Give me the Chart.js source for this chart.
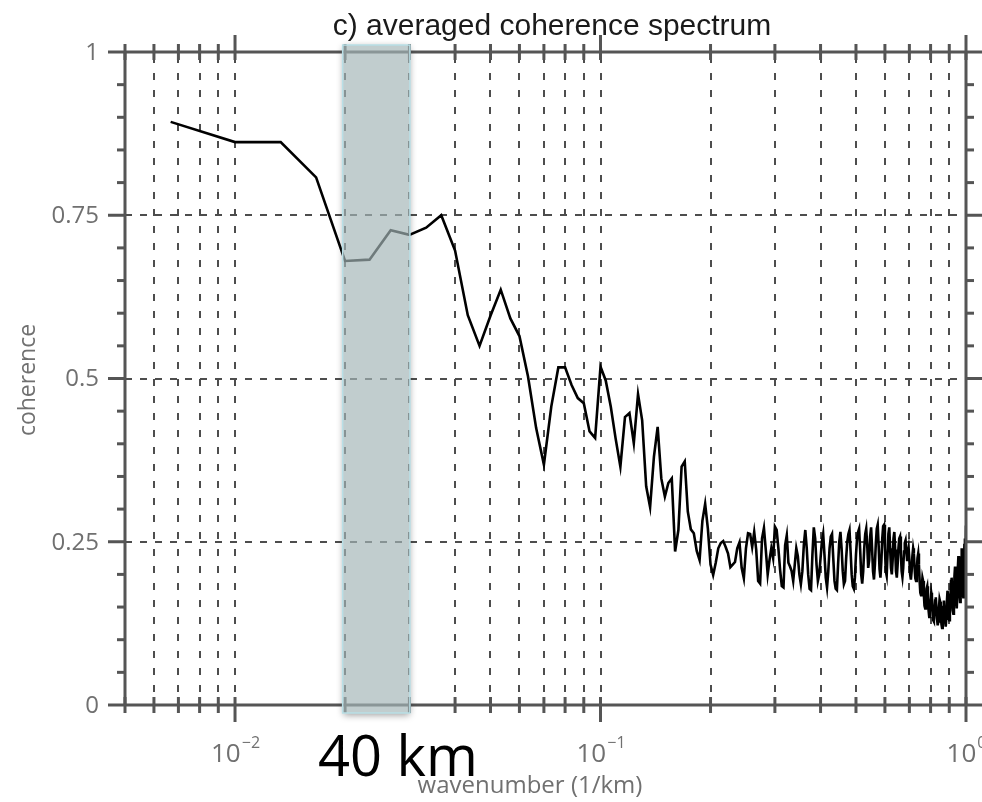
<!DOCTYPE html>
<html>
<head>
<meta charset="utf-8">
<script src="https://cdn.jsdelivr.net/npm/chart.js@4.4.1/dist/chart.umd.min.js"></script>
<style>html,body{margin:0;padding:0;background:#fff}canvas{display:block}</style>
</head>
<body>
<canvas id="c" width="982" height="802"></canvas>
<script>
// spectrum samples: wavenumber = index * DK, first sample at index 2
const DK = 1 / 300, FIRST = 2;

const coherence = [
  0.893, 0.862, 0.862, 0.808, 0.680, 0.682, 0.727, 0.720, 0.731, 0.750,          // n 2-11
  0.696, 0.597, 0.550, 0.596, 0.636, 0.592, 0.565, 0.503, 0.424, 0.368,          // 12-21
  0.457, 0.517, 0.517, 0.490, 0.470, 0.462, 0.419, 0.409, 0.518, 0.497,          // 22-31
  0.457, 0.408, 0.365, 0.441, 0.447, 0.401, 0.476, 0.436, 0.335, 0.303,          // 32-41
  0.380, 0.426, 0.347, 0.319, 0.340, 0.347, 0.235, 0.268, 0.365, 0.373,          // 42-51
  0.296, 0.269, 0.263, 0.236, 0.222, 0.282, 0.308, 0.270, 0.215, 0.199,          // 52-61
  0.218, 0.240, 0.248, 0.251, 0.242, 0.232, 0.211, 0.215, 0.219, 0.240,          // 62-71
  0.249, 0.210, 0.194, 0.240, 0.263, 0.262, 0.242, 0.265, 0.238, 0.190,          // 72-81
  0.186, 0.255, 0.271, 0.237, 0.200, 0.222, 0.240, 0.225, 0.273, 0.268,          // 82-91
  0.240, 0.207, 0.182, 0.180, 0.245, 0.260, 0.218, 0.212, 0.205, 0.190,          // 92-101
  0.215, 0.240, 0.228, 0.200, 0.185, 0.205, 0.245, 0.268, 0.240, 0.200,          // 102-111
  0.178, 0.176, 0.230, 0.272, 0.255, 0.215, 0.190, 0.200, 0.225, 0.250,          // 112-121
  0.262, 0.230, 0.195, 0.180, 0.205, 0.240, 0.258, 0.262, 0.225, 0.190,          // 122-131
  0.178, 0.176, 0.215, 0.250, 0.265, 0.240, 0.205, 0.185, 0.190, 0.225,          // 132-141
  0.250, 0.262, 0.268, 0.235, 0.200, 0.182, 0.178, 0.195, 0.230, 0.255,          // 142-151
  0.265, 0.270, 0.238, 0.200, 0.186, 0.205, 0.240, 0.262, 0.270, 0.245,          // 152-161
  0.210, 0.222, 0.258, 0.272, 0.240, 0.205, 0.192, 0.215, 0.248, 0.270,          // 162-171
  0.276, 0.245, 0.208, 0.195, 0.220, 0.255, 0.274, 0.276, 0.240, 0.205,          // 172-181
  0.198, 0.230, 0.262, 0.272, 0.240, 0.210, 0.200, 0.222, 0.255, 0.265,          // 182-191
  0.238, 0.205, 0.195, 0.215, 0.240, 0.255, 0.258, 0.232, 0.205, 0.196,          // 192-201
  0.210, 0.235, 0.248, 0.252, 0.236, 0.222, 0.232, 0.240, 0.222, 0.200,          // 202-211
  0.192, 0.205, 0.228, 0.240, 0.232, 0.210, 0.194, 0.190, 0.205, 0.225,          // 212-221
  0.232, 0.215, 0.190, 0.172, 0.168, 0.180, 0.195, 0.190, 0.170, 0.152,          // 222-231
  0.148, 0.160, 0.178, 0.182, 0.165, 0.145, 0.135, 0.142, 0.160, 0.172,          // 232-241
  0.165, 0.145, 0.130, 0.128, 0.142, 0.160, 0.165, 0.150, 0.132, 0.122,          // 242-251
  0.128, 0.148, 0.162, 0.158, 0.140, 0.124, 0.118, 0.130, 0.150, 0.160,          // 252-261
  0.148, 0.128, 0.120, 0.132, 0.158, 0.175, 0.168, 0.145, 0.130, 0.138,          // 262-271
  0.165, 0.190, 0.195, 0.170, 0.145, 0.140, 0.162, 0.198, 0.212, 0.192,          // 272-281
  0.160, 0.148, 0.170, 0.210, 0.228, 0.205, 0.170, 0.158, 0.182, 0.225,          // 282-291
  0.240, 0.210, 0.172, 0.165, 0.200, 0.245, 0.255, 0.218, 0.275                  // 292-300
];
const wavenumber = coherence.map((_, i) => (i + FIRST) * DK);

const X_MIN = 0.005, X_MAX = 1;
const xMajorTicks = [0.01, 0.1, 1];
const xExponents = ['\u22122', '\u22121', '0'];
const xMinorTicks = [0.005, 0.006, 0.007, 0.008, 0.009,
  0.02, 0.03, 0.04, 0.05, 0.06, 0.07, 0.08, 0.09,
  0.2, 0.3, 0.4, 0.5, 0.6, 0.7, 0.8, 0.9];
const yMajorTicks = [0, 0.25, 0.5, 0.75, 1];
const yTickLabels = ['0', '0.25', '0.5', '0.75', '1'];
const yMinorTicks = [0.05, 0.1, 0.15, 0.2, 0.3, 0.35, 0.4, 0.45, 0.55, 0.6, 0.65, 0.7, 0.8, 0.85, 0.9, 0.95];
const bandRange = [0.0197, 0.0301];
const bandLabel = '40 km';

const AX = '#555';
const LBL = '#707070';

function seg(ctx, x1, y1, x2, y2) { ctx.beginPath(); ctx.moveTo(x1, y1); ctx.lineTo(x2, y2); ctx.stroke(); }

const deco = {
  id: 'deco',
  beforeDatasetsDraw(ch) {
    const { ctx, chartArea: a, scales: { x, y } } = ch;
    ctx.save();
    ctx.strokeStyle = '#4d4d4d'; ctx.lineWidth = 2;
    ctx.setLineDash([7, 10]);
    [...xMinorTicks, ...xMajorTicks].forEach(v => {
      if (v <= X_MIN || v >= X_MAX) return;
      const px = Math.round(x.getPixelForValue(v));
      seg(ctx, px, a.top + 4, px, a.bottom);
    });
    ctx.setLineDash([7, 8]);
    yMajorTicks.forEach(v => {
      if (v <= 0 || v >= 1) return;
      const py = Math.round(y.getPixelForValue(v));
      seg(ctx, a.left, py, a.right, py);
    });
    ctx.restore();
  },
  afterDatasetsDraw(ch) {
    const { ctx, chartArea: a, scales: { x, y } } = ch;
    ctx.save();
    ctx.strokeStyle = AX; ctx.lineWidth = 3; ctx.lineCap = 'butt';
    // box
    seg(ctx, a.left, a.top, a.right, a.top);
    seg(ctx, a.left, a.bottom, a.right, a.bottom);
    seg(ctx, a.left, a.top, a.left, a.bottom);
    seg(ctx, a.right, a.top, a.right, a.bottom);
    // x ticks
    xMinorTicks.forEach(v => {
      const px = x.getPixelForValue(v);
      seg(ctx, px, a.top - 8, px, a.top + 8);
      seg(ctx, px, a.bottom - 8, px, a.bottom + 8);
    });
    xMajorTicks.forEach(v => {
      const px = x.getPixelForValue(v);
      seg(ctx, px, a.top - 17, px, a.top + 8);
      seg(ctx, px, a.bottom - 8, px, a.bottom + 17);
    });
    // y ticks
    yMajorTicks.forEach(v => {
      const py = y.getPixelForValue(v);
      seg(ctx, a.left - 17, py, a.left, py);
      seg(ctx, a.right, py, a.right + 16, py);
    });
    yMinorTicks.forEach(v => {
      const py = y.getPixelForValue(v);
      seg(ctx, a.left - 8, py, a.left, py);
      seg(ctx, a.right, py, a.right + 8, py);
    });
    // shaded band: shadow only outside the band, then translucent fill
    const bx1 = x.getPixelForValue(bandRange[0]), bx2 = x.getPixelForValue(bandRange[1]);
    const by1 = a.top - 7, by2 = a.bottom + 8;
    ctx.save();
    ctx.beginPath();
    ctx.rect(0, 0, ch.width, ch.height);
    ctx.rect(bx1, by1, bx2 - bx1, by2 - by1);
    ctx.clip('evenodd');
    ctx.shadowColor = 'rgba(0,0,0,0.4)'; ctx.shadowBlur = 7; ctx.shadowOffsetY = 2;
    ctx.fillStyle = '#fff';
    ctx.fillRect(bx1, by1, bx2 - bx1, by2 - by1);
    ctx.restore();
    ctx.fillStyle = 'rgba(163,182,183,0.68)';
    ctx.fillRect(bx1, by1, bx2 - bx1, by2 - by1);
    ctx.strokeStyle = '#b9dfe6'; ctx.lineWidth = 1.5;
    ctx.strokeRect(bx1, by1, bx2 - bx1, by2 - by1);
    ctx.restore();
  },
  afterDraw(ch) {
    const { ctx, chartArea: a, scales: { x, y } } = ch;
    ctx.save();
    // title
    ctx.fillStyle = '#1a1a1a'; ctx.font = '30px "Liberation Sans", Arial, sans-serif';
    ctx.textAlign = 'center'; ctx.textBaseline = 'alphabetic';
    ctx.fillText('c) averaged coherence spectrum', 552, 35);
    // y tick labels
    ctx.fillStyle = LBL; ctx.font = '24px "Open Sans", sans-serif';
    ctx.textAlign = 'right'; ctx.textBaseline = 'middle';
    yMajorTicks.forEach((v, i) => ctx.fillText(yTickLabels[i], a.left - 26, y.getPixelForValue(v) + 1));
    // x tick labels 10^k
    ctx.textBaseline = 'alphabetic';
    xMajorTicks.forEach((v, i) => {
      const px = x.getPixelForValue(v);
      ctx.font = '26px "Open Sans", sans-serif';
      const w1 = ctx.measureText('10').width;
      ctx.font = '16px "Open Sans", sans-serif';
      const w2 = ctx.measureText(xExponents[i]).width;
      const x0 = px - (w1 + w2) / 2;
      ctx.textAlign = 'left';
      ctx.font = '26px "Open Sans", sans-serif';
      ctx.fillText('10', x0, 762);
      ctx.font = '16px "Open Sans", sans-serif';
      ctx.fillText(xExponents[i], x0 + w1 + 1, 748);
    });
    // axis titles
    ctx.font = '24px "Open Sans", sans-serif'; ctx.textAlign = 'center';
    ctx.fillText('wavenumber (1/km)', 530, 793);
    ctx.save();
    ctx.translate(35, 380); ctx.rotate(-Math.PI / 2);
    ctx.font = '23px "Open Sans", sans-serif';
    ctx.fillText('coherence', 0, 0);
    ctx.restore();
    // band label
    ctx.fillStyle = '#000'; ctx.font = '56px "Open Sans", sans-serif'; ctx.textAlign = 'left';
    ctx.fillText(bandLabel, 318, 776);
    ctx.restore();
  }
};

new Chart(document.getElementById('c'), {
  type: 'line',
  data: {
    datasets: [{
      data: wavenumber.map((k, i) => ({ x: k, y: coherence[i] })),
      borderColor: '#000', borderWidth: 2.6, pointRadius: 0, tension: 0, fill: false
    }]
  },
  options: {
    responsive: false, devicePixelRatio: 1, animation: false,
    layout: { padding: { left: 125, right: 16, top: 52, bottom: 97 } },
    plugins: { legend: { display: false }, tooltip: { enabled: false }, title: { display: false } },
    scales: {
      x: { type: 'logarithmic', min: X_MIN, max: X_MAX, display: false },
      y: { type: 'linear', min: 0, max: 1, display: false }
    }
  },
  plugins: [deco]
});
</script>
</body>
</html>
